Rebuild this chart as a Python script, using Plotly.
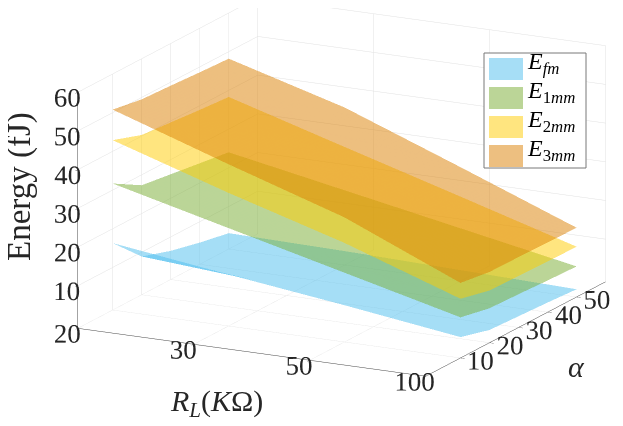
import plotly.graph_objects as go
import numpy as np

# R_L categories (plotted at index positions 1..4)
rl_labels = ["20", "30", "50", "100"]
rl_pos = [1, 2, 3, 4]
alpha_vals = [10, 20, 30, 40, 50]
z_ticks = [10, 20, 30, 40, 50, 60]

# Energy (fJ): rows = R_L (20,30,50,100), cols = alpha (10..50)
E_fm = [
    [16.3, 8.9, 6.4, 4.6, 3.1],
    [12.3, 6.7, 4.9, 3.6, 2.6],
    [8.5, 4.5, 3.4, 2.5, 1.8],
    [4.4, 2.3, 1.9, 1.5, 1.0],
]
E_1mm = [
    [31.7, 27.3, 26.2, 25.1, 24.0],
    [24.3, 20.5, 19.8, 19.0, 18.3],
    [16.9, 13.8, 13.4, 13.0, 12.6],
    [9.5, 7.9, 7.6, 7.2, 6.9],
]
E_2mm = [
    [42.9, 40.3, 39.6, 38.9, 38.3],
    [33.4, 31.0, 30.5, 30.0, 29.5],
    [24.6, 22.3, 21.8, 21.3, 20.8],
    [14.3, 12.5, 12.3, 12.1, 12.0],
]
E_3mm = [
    [50.8, 49.5, 49.1, 48.6, 48.2],
    [40.8, 40.2, 40.0, 39.8, 39.7],
    [31.2, 29.5, 29.0, 28.7, 28.4],
    [18.4, 17.3, 17.2, 17.0, 16.9],
]

series = [
    ("E_fm", "<i>E</i><sub><i>fm</i></sub>", E_fm, "rgb(77,190,238)"),
    ("E_1mm", "<i>E</i><sub>1<i>mm</i></sub>", E_1mm, "rgb(119,172,48)"),
    ("E_2mm", "<i>E</i><sub>2<i>mm</i></sub>", E_2mm, "rgb(255,204,0)"),
    ("E_3mm", "<i>E</i><sub>3<i>mm</i></sub>", E_3mm, "rgb(219,127,1)"),
]

FONT = "Liberation Serif"
W, H = 623, 426
OFF = 8  # page body margin

def px(X):
    return (X - OFF) / W

def py(Y):
    return 1 - (Y - OFF) / H

fig = go.Figure()
for name, label, Z, col in series:
    Zt = np.array(Z).T  # rows -> alpha, cols -> R_L
    fig.add_trace(go.Surface(
        x=rl_pos, y=alpha_vals, z=Zt,
        colorscale=[[0, col], [1, col]], showscale=False, opacity=0.5,
        lighting=dict(ambient=1, diffuse=0, specular=0, fresnel=0, roughness=1),
        hoverinfo="skip", name=name,
    ))

axis_common = dict(
    showbackground=False, gridcolor="rgb(225,225,225)", gridwidth=1,
    showline=True, linecolor="rgb(70,70,70)", linewidth=1,
    ticks="outside", ticklen=5, tickcolor="rgb(70,70,70)", tickangle=0,
    tickfont=dict(family=FONT, size=18, color="rgb(38,38,38)"),
    zeroline=False, showspikes=False, title=dict(text=""),
)

d = np.array([0.439, -0.857, 0.269])
r = np.array([0.890, 0.456, 0.0])
u = np.array([-0.1225, 0.239, 0.963])
k = H / 2.0
c = -(22.2 / k) * r - (34.0 / k) * u
eye = c + d * 2.0
S = 1.835

fig.update_layout(
    width=W, height=H, margin=dict(l=0, r=0, t=0, b=0),
    paper_bgcolor="white", showlegend=False,
    scene=dict(
        domain=dict(x=[0, 1], y=[0, 1]),
        xaxis=dict(axis_common, range=[1, 4], tickvals=rl_pos, ticktext=rl_labels),
        yaxis=dict(axis_common, range=[-2, 60], tickvals=alpha_vals),
        zaxis=dict(axis_common, range=[-1, 60], tickvals=z_ticks),
        aspectmode="manual", aspectratio=dict(x=1 * S, y=1.01 * S, z=0.627 * S),
        camera=dict(eye=dict(x=eye[0], y=eye[1], z=eye[2]), up=dict(x=0, y=0, z=1),
                    center=dict(x=c[0], y=c[1], z=c[2]), projection=dict(type="orthographic")),
    ),
)

TXT = "rgb(38,38,38)"
# Axis titles
fig.add_annotation(x=px(20), y=py(187), xref="paper", yref="paper", text="Energy (fJ)",
                   textangle=-90, xanchor="center", yanchor="middle", showarrow=False,
                   font=dict(family=FONT, size=33, color=TXT))
fig.add_annotation(x=px(216), y=py(403), xref="paper", yref="paper",
                   text="<i>R</i><sub><i>L</i></sub>(<i>K</i>Ω)", xanchor="center", yanchor="middle",
                   showarrow=False, font=dict(family=FONT, size=30, color=TXT))
fig.add_annotation(x=px(576), y=py(366), xref="paper", yref="paper", text="<i>α</i>",
                   xanchor="center", yanchor="middle", showarrow=False,
                   font=dict(family=FONT, size=30, color=TXT))

# Legend box
lx0, ly0, lx1, ly1 = 484, 53, 586, 168
fig.add_shape(type="rect", xref="paper", yref="paper", x0=px(lx0), x1=px(lx1),
              y0=py(ly1), y1=py(ly0), line=dict(color="rgb(120,120,120)", width=1),
              fillcolor="white")
for i, (name, label, Z, col) in enumerate(series):
    yc = 69 + i * 29
    fig.add_shape(type="rect", xref="paper", yref="paper", x0=px(489), x1=px(523),
                  y0=py(yc + 11), y1=py(yc - 11), line=dict(width=0),
                  fillcolor=col, opacity=0.5)
    fig.add_annotation(x=px(525), y=py(yc - 6), xref="paper", yref="paper", text=label,
                       xanchor="left", yanchor="middle", showarrow=False,
                       font=dict(family=FONT, size=24, color="black"))

fig.write_html("out.html")
